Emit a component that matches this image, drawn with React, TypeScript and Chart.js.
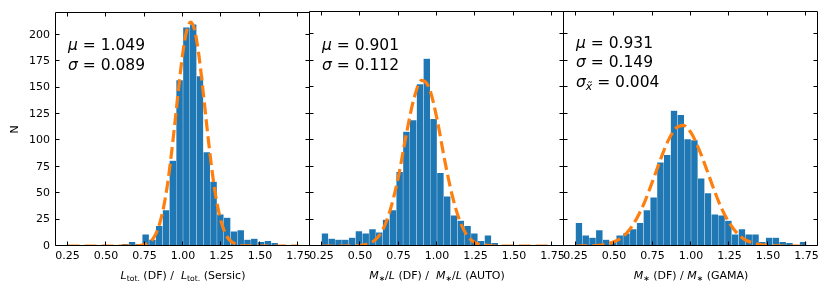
import React, { useEffect, useRef } from "react";
import { Chart, registerables } from "chart.js";

Chart.register(...registerables);

// ---------------- data ----------------
const binCenters = [
  0.2721, 0.3162, 0.3603, 0.4044, 0.4485, 0.4926, 0.5368, 0.5809, 0.625, 0.6691,
  0.7132, 0.7574, 0.8015, 0.8456, 0.8897, 0.9338, 0.9779, 1.0221, 1.0662, 1.1103,
  1.1544, 1.1985, 1.2426, 1.2868, 1.3309, 1.375, 1.4191, 1.4632, 1.5074, 1.5515,
  1.5956, 1.6397, 1.6838, 1.7279,
];

const countsLtot = [
  0, 0, 0, 0, 0, 0, 1, 1, 2, 4, 2, 11, 6, 19, 34, 81, 157, 207, 210, 161, 89, 61,
  30, 27, 14, 15, 6, 7, 4, 5, 3, 1, 1, 0,
];
const countsML = [
  12, 7, 6, 6, 8, 14, 12, 16, 13, 25, 34, 70, 108, 119, 153, 177, 120, 69, 47, 29,
  24, 19, 12, 5, 10, 3, 0, 0, 0, 1, 0, 1, 0, 0,
];
const countsMstar = [
  22, 10, 8, 15, 6, 4, 10, 12, 16, 22, 34, 46, 79, 86, 128, 124, 101, 100, 64, 50,
  30, 29, 24, 11, 16, 11, 11, 4, 8, 8, 4, 3, 1, 4,
];

const fitXLtot = [
  0.25, 0.6, 0.7, 0.75, 0.775, 0.8, 0.825, 0.85, 0.875, 0.9, 0.925, 0.95, 0.975, 1.0,
  1.025, 1.05, 1.075, 1.1, 1.125, 1.15, 1.175, 1.2, 1.225, 1.25, 1.275, 1.3, 1.35,
  1.4, 1.5, 1.75,
];
const fitYLtot = [
  0, 0, 0.2, 1.3, 2.9, 6, 12, 22, 37.5, 59, 87.6, 120, 154, 184, 204.6, 212, 204.6,
  184, 154, 120, 87.6, 59, 37.5, 22, 12, 6, 1.3, 0.2, 0, 0,
];

const fitXML = [
  0.25, 0.4, 0.45, 0.5, 0.55, 0.6, 0.65, 0.7, 0.75, 0.8, 0.85, 0.9, 0.95, 1.0, 1.05,
  1.1, 1.15, 1.2, 1.25, 1.3, 1.35, 1.4, 1.5, 1.75,
];
const fitYML = [
  0, 0, 0.1, 0.5, 2, 6, 16, 36, 66, 105, 139, 156.5, 149, 120, 81, 47, 23, 9, 3, 1,
  0.2, 0, 0, 0,
];

const fitXMstar = [
  0.25, 0.3, 0.35, 0.4, 0.45, 0.5, 0.55, 0.6, 0.65, 0.7, 0.75, 0.8, 0.85, 0.9, 0.95,
  1.0, 1.05, 1.1, 1.15, 1.2, 1.25, 1.3, 1.35, 1.4, 1.45, 1.5, 1.55, 1.6, 1.75,
];
const fitYMstar = [
  0, 0.1, 0.3, 0.7, 1.8, 4, 8, 15.4, 26.6, 42, 61, 81, 99, 111, 114, 107, 92, 73, 53,
  35, 21.6, 12, 6, 3, 1.3, 0.5, 0.2, 0, 0,
];

const xTickValues = [0.25, 0.5, 0.75, 1.0, 1.25, 1.5, 1.75];
const xTickLabels = ["0.25", "0.50", "0.75", "1.00", "1.25", "1.50", "1.75"];
const yTickValues = [0, 25, 50, 75, 100, 125, 150, 175, 200];
const yTickLabels = ["0", "25", "50", "75", "100", "125", "150", "175", "200"];
const yAxisTitle = "N";

type Seg = { t: string; it?: boolean; sub?: boolean };

const statsLtot: Seg[][] = [
  [{ t: "μ", it: true }, { t: " = 1.049" }],
  [{ t: "σ", it: true }, { t: " = 0.089" }],
];
const statsML: Seg[][] = [
  [{ t: "μ", it: true }, { t: " = 0.901" }],
  [{ t: "σ", it: true }, { t: " = 0.112" }],
];
const statsMstar: Seg[][] = [
  [{ t: "μ", it: true }, { t: " = 0.931" }],
  [{ t: "σ", it: true }, { t: " = 0.149" }],
  [{ t: "σ", it: true }, { t: "x̃", it: true, sub: true }, { t: " = 0.004" }],
];

const titleLtot: Seg[] = [
  { t: "L", it: true }, { t: "tot.", sub: true }, { t: " (DF) /  " },
  { t: "L", it: true }, { t: "tot.", sub: true }, { t: " (Sersic)" },
];
const titleML: Seg[] = [
  { t: "M", it: true }, { t: "∗", sub: true }, { t: "/" }, { t: "L", it: true },
  { t: " (DF) /  " },
  { t: "M", it: true }, { t: "∗", sub: true }, { t: "/" }, { t: "L", it: true },
  { t: " (AUTO)" },
];
const titleMstar: Seg[] = [
  { t: "M", it: true }, { t: "∗", sub: true }, { t: " (DF) / " },
  { t: "M", it: true }, { t: "∗", sub: true }, { t: " (GAMA)" },
];

// ---------------- layout ----------------
const W = 830;
const H = 294;
const PLOT_TOP = 12;
const PLOT_BOTTOM = 246;
const PANEL_W = 254;
const X_AXIS_H = 22;
const X_MIN = 0.175;
const X_MAX = 1.825;
const Y_MAX = 221;
const FAMILY = '"DejaVu Sans", sans-serif';
const BAR_COLOR = "#1f77b4";
const BAR_EDGE = "rgba(255,255,255,0.14)";
const FIT_COLOR = "#ff7f0e";

type Panel = {
  left: number;
  counts: number[];
  fitX: number[];
  fitY: number[];
  stats: Seg[][];
  statsX: number;
  statsY: number[];
  title: Seg[];
  showY: boolean;
};

const panels: Panel[] = [
  { left: 56, counts: countsLtot, fitX: fitXLtot, fitY: fitYLtot, stats: statsLtot, statsX: 68, statsY: [50, 69.5], title: titleLtot, showY: true },
  { left: 310, counts: countsML, fitX: fitXML, fitY: fitYML, stats: statsML, statsX: 322, statsY: [49.5, 69.5], title: titleML, showY: false },
  { left: 564, counts: countsMstar, fitX: fitXMstar, fitY: fitYMstar, stats: statsMstar, statsX: 576, statsY: [47.5, 67, 86.5], title: titleMstar, showY: false },
];

function drawRich(ctx: CanvasRenderingContext2D, segs: Seg[], x: number, y: number, size: number, align: "left" | "center") {
  const fontOf = (s: Seg) => `${s.it ? "italic " : ""}${s.sub ? size * 0.7 : size}px ${FAMILY}`;
  const widths = segs.map((s) => {
    ctx.font = fontOf(s);
    return ctx.measureText(s.t).width;
  });
  const total = widths.reduce((a, b) => a + b, 0);
  let cx = align === "center" ? x - total / 2 : x;
  ctx.textAlign = "left";
  ctx.textBaseline = "alphabetic";
  segs.forEach((s, i) => {
    ctx.font = fontOf(s);
    ctx.fillText(s.t, cx, s.sub ? y + size * 0.22 : y);
    cx += widths[i];
  });
}

function PanelChart({ p }: { p: Panel }) {
  const ref = useRef<HTMLCanvasElement | null>(null);
  useEffect(() => {
    const canvas = ref.current;
    if (!canvas) return;
    const decor = {
      id: "decor",
      afterDraw(chart: any) {
        const ctx: CanvasRenderingContext2D = chart.ctx;
        const a = chart.chartArea;
        const xs = chart.scales.x;
        const ys = chart.scales.y;
        ctx.save();
        ctx.strokeStyle = "#000";
        ctx.lineWidth = 1;
        const L = Math.round(a.left) - 0.5;
        const R = Math.round(a.right) - 0.5;
        const T = Math.round(a.top) - 0.5;
        const B = Math.round(a.bottom) - 0.5;
        ctx.beginPath();
        ctx.rect(L, T, R - L, B - T);
        const tl = 4;
        xTickValues.forEach((v) => {
          const px = Math.round(xs.getPixelForValue(v)) - 0.5;
          ctx.moveTo(px, B);
          ctx.lineTo(px, B - tl);
          ctx.moveTo(px, T);
          ctx.lineTo(px, T + tl);
        });
        yTickValues.forEach((v) => {
          const py = Math.round(ys.getPixelForValue(v)) - 0.5;
          ctx.moveTo(L, py);
          ctx.lineTo(L + tl, py);
          ctx.moveTo(R, py);
          ctx.lineTo(R - tl, py);
        });
        ctx.stroke();
        ctx.fillStyle = "#000";
        p.stats.forEach((line, i) => drawRich(ctx, line, p.statsX, p.statsY[i], 15.5, "left"));
        drawRich(ctx, p.title, (a.left + a.right) / 2, 278.5, 11, "center");
        if (p.showY) {
          ctx.save();
          ctx.translate(15, (a.top + a.bottom) / 2);
          ctx.rotate(-Math.PI / 2);
          ctx.font = `11px ${FAMILY}`;
          ctx.textAlign = "center";
          ctx.textBaseline = "middle";
          ctx.fillText(yAxisTitle, 0, 0);
          ctx.restore();
        }
        ctx.restore();
      },
    };
    const chart = new Chart(canvas, {
      type: "bar",
      data: {
        datasets: [
          {
            type: "line",
            data: p.fitX.map((x, i) => ({ x, y: p.fitY[i] })),
            borderColor: FIT_COLOR,
            borderWidth: 3.2,
            borderDash: [12, 5],
            borderCapStyle: "butt",
            pointRadius: 0,
            cubicInterpolationMode: "monotone",
            fill: false,
            clip: 0,
            order: 0,
          } as any,
          {
            type: "bar",
            data: binCenters.map((x, i) => ({ x, y: p.counts[i] })),
            backgroundColor: BAR_COLOR,
            borderColor: BAR_EDGE,
            borderWidth: 0.5,
            borderSkipped: "bottom",
            barPercentage: 1,
            categoryPercentage: 1,
            order: 1,
          } as any,
        ],
      },
      options: {
        responsive: false,
        animation: false,
        devicePixelRatio: 1,
        events: [],
        layout: {
          padding: {
            left: p.showY ? 0 : p.left,
            right: W - (p.left + PANEL_W),
            top: PLOT_TOP,
            bottom: H - PLOT_BOTTOM - X_AXIS_H,
          },
        },
        plugins: { legend: { display: false }, tooltip: { enabled: false } },
        scales: {
          x: {
            type: "linear",
            min: X_MIN,
            max: X_MAX,
            offset: false,
            grid: { display: false, drawTicks: false },
            border: { display: false },
            ticks: {
              autoSkip: false,
              maxRotation: 0,
              minRotation: 0,
              padding: 4,
              color: "#000",
              font: { family: FAMILY, size: 11 },
              callback: (_v: any, i: number) => xTickLabels[i],
            },
            afterBuildTicks: (s: any) => {
              s.ticks = xTickValues.map((v) => ({ value: v }));
            },
            afterFit: (s: any) => {
              s.height = X_AXIS_H;
            },
          },
          y: {
            type: "linear",
            min: 0,
            max: Y_MAX,
            grid: { display: false, drawTicks: false },
            border: { display: false },
            ticks: {
              display: p.showY,
              padding: 6,
              color: "#000",
              font: { family: FAMILY, size: 11 },
              callback: (_v: any, i: number) => yTickLabels[i],
            },
            afterBuildTicks: (s: any) => {
              s.ticks = yTickValues.map((v) => ({ value: v }));
            },
            afterFit: (s: any) => {
              s.width = p.showY ? p.left : 0;
            },
          },
        } as any,
      },
      plugins: [decor],
    });
    return () => chart.destroy();
  }, [p]);
  return (
    <canvas
      ref={ref}
      width={W}
      height={H}
      style={{ position: "absolute", left: 0, top: 0, width: W, height: H }}
    />
  );
}

export default function App() {
  return (
    <div style={{ position: "fixed", left: 0, top: 0, width: W, height: H, background: "#fff" }}>
      {panels.map((p, i) => (
        <PanelChart key={i} p={p} />
      ))}
    </div>
  );
}
